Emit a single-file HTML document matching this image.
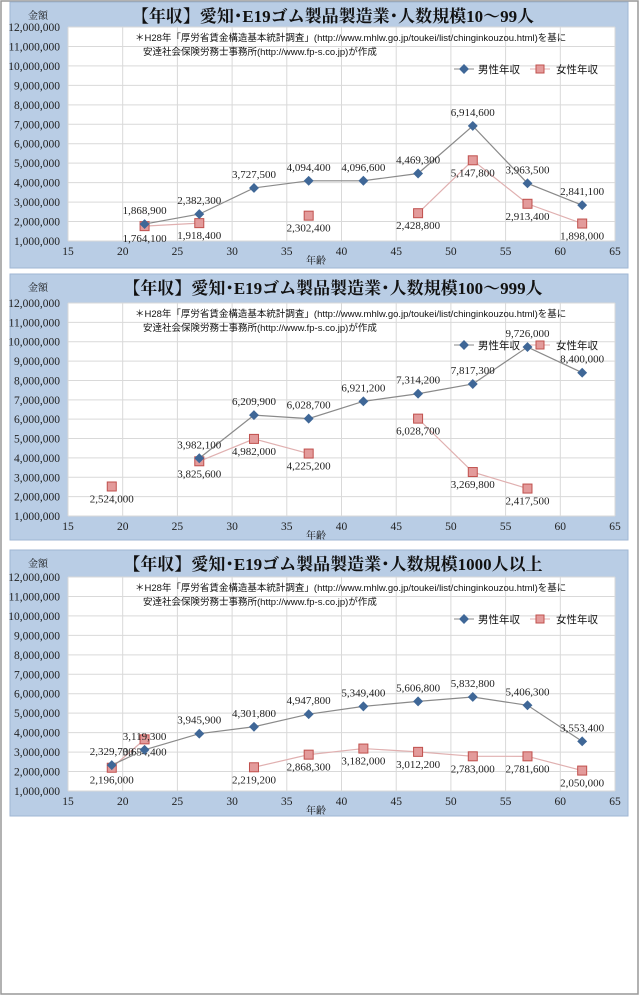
<!DOCTYPE html>
<html><head><meta charset="utf-8"><style>
html,body{margin:0;padding:0;background:#fff;}
svg{display:block;}
text{font-family:"Liberation Serif","Noto Serif CJK SC",serif;}
.s{font-family:"Liberation Sans","Noto Sans CJK JP",sans-serif;}
</style></head><body>
<svg id="chart" width="640" height="996" xmlns="http://www.w3.org/2000/svg">
<rect x="1" y="1" width="637" height="993" fill="#fff" stroke="#999" stroke-width="1.5"/>
</svg>
<script>
const ages=[19,22,27,32,37,42,47,52,57,62];
const titles=["【年収】愛知･E19ゴム製品製造業･人数規模10～99人","【年収】愛知･E19ゴム製品製造業･人数規模100～999人","【年収】愛知･E19ゴム製品製造業･人数規模1000人以上"];
const male1=[null,1868900,2382300,3727500,4094400,4096600,4469300,6914600,3963500,2841100];
const female1=[null,1764100,1918400,null,2302400,null,2428800,5147800,2913400,1898000];
const male2=[null,null,3982100,6209900,6028700,6921200,7314200,7817300,9726000,8400000];
const female2=[2524000,null,3825600,4982000,4225200,null,6028700,3269800,2417500,null];
const male3=[2329700,3119300,3945900,4301800,4947800,5349400,5606800,5832800,5406300,3553400];
const female3=[2196000,3654400,null,2219200,2868300,3182000,3012200,2783000,2781600,2050000];
const yTicks=[1e6,2e6,3e6,4e6,5e6,6e6,7e6,8e6,9e6,10e6,11e6,12e6];
const xTicks=[15,20,25,30,35,40,45,50,55,60,65];
const maleSets=[male1,male2,male3];
const femaleSets=[female1,female2,female3];
const panelTops=[2,274,550],plotTops=[27,303,577],plotBots=[241,516,791];
const NS="http://www.w3.org/2000/svg";
const svg=document.getElementById('chart');
function mk(tag,attrs,parent,txt){const e=document.createElementNS(NS,tag);for(const k in attrs)e.setAttribute(k,attrs[k]);if(txt!==undefined)e.textContent=txt;(parent||svg).appendChild(e);return e;}
const fmt=v=>v.toLocaleString('en-US');
const X0=68,X1=615;
for(let p=0;p<3;p++){
  const top=panelTops[p],pt=plotTops[p],pb=plotBots[p];
  const xs=a=>X0+(a-15)/50*(X1-X0);
  const ys=v=>pb-(v-1e6)/11e6*(pb-pt);
  const g=mk('g',{});
  
  
  const bg=mk('rect',{x:10,y:top,width:618,height:266,fill:'#b9cde5',stroke:'#9fb6d3'},g);
  
  
  const pa=mk('rect',{x:X0,y:pt,width:X1-X0,height:pb-pt,fill:'#fff'},g);
  
  
  yTicks.forEach(t=>{const y=ys(t);
    const l=mk('line',{x1:X0,x2:X1,y1:y,y2:y,stroke:'#d9d9d9'},g);
    
    
    const tx=mk('text',{x:60,y:y+4,'font-size':11.5,'text-anchor':'end',fill:'#222'},g,fmt(t));
    
    });
  xTicks.forEach(t=>{const x=xs(t);
    const l=mk('line',{x1:x,x2:x,y1:pt,y2:pb,stroke:'#d9d9d9'},g);
    
    
    const tx=mk('text',{x:x,y:pb+14,'font-size':11.5,'text-anchor':'middle',fill:'#222'},g,String(t));
    
    });
  const ti=mk('text',{x:333,y:top+20,'font-size':17,'text-anchor':'middle','font-weight':'bold',fill:'#111'},g,titles[p]);
  
  
  const ya=mk('text',{x:38,y:top+17,'font-size':10,'text-anchor':'middle',fill:'#111'},g,'金額');
  
  
  const xa=mk('text',{x:316,y:pb+23,'font-size':10,'text-anchor':'middle',fill:'#111'},g,'年齢');
  
  
  const n1=mk('text',{x:135,y:pt+14,'font-size':9.5,fill:'#111',class:'s'},g,'＊H28年「厚労省賃金構造基本統計調査」(http://www.mhlw.go.jp/toukei/list/chinginkouzou.html)を基に');
  
  
  const n2=mk('text',{x:143,y:pt+28,'font-size':9.5,fill:'#111',class:'s'},g,'安達社会保険労務士事務所(http://www.fp-s.co.jp)が作成');
  
  
  const ly=pt+42;
  const lg=mk('g',{},g);
  
  
  mk('line',{x1:454,x2:474,y1:ly,y2:ly,stroke:'#8a8a8a'},lg);
  mk('rect',{x:460.5,y:ly-3.5,width:7,height:7,fill:'#3f6797',transform:`rotate(45 464 ${ly})`},lg);
  mk('text',{x:478,y:ly+4,'font-size':10.5,fill:'#111',class:'s'},lg,'男性年収');
  mk('line',{x1:530,x2:550,y1:ly,y2:ly,stroke:'#e0b0b0'},lg);
  mk('rect',{x:536,y:ly-4,width:8,height:8,fill:'#e39b9b',stroke:'#c0504d'},lg);
  mk('text',{x:556,y:ly+4,'font-size':10.5,fill:'#111',class:'s'},lg,'女性年収');
  [[femaleSets[p],'#e0b0b0','female',16],[maleSets[p],'#8a8a8a','male',-10]].forEach(([arr,col,nm,off])=>{
    let seg=[];
    const segs=[];
    arr.forEach((v,i)=>{if(v===null){if(seg.length)segs.push(seg);seg=[];}else seg.push([xs(ages[i]),ys(v)]);});
    if(seg.length)segs.push(seg);
    segs.forEach(s=>{if(s.length>1){const pl=mk('polyline',{points:s.map(q=>q.join(',')).join(' '),fill:'none',stroke:col,'stroke-width':1.2},g);
      
      }});
    arr.forEach((v,i)=>{if(v===null)return;const x=xs(ages[i]),y=ys(v);let m;
      if(nm==='male'){m=mk('rect',{x:x-3.5,y:y-3.5,width:7,height:7,fill:'#3f6797',transform:`rotate(45 ${x} ${y})`},g);}
      else{m=mk('rect',{x:x-4.5,y:y-4.5,width:9,height:9,fill:'#e39b9b',stroke:'#c0504d'},g);}
      
      
      const lb=mk('text',{x:x,y:y+off,'font-size':11,'text-anchor':'middle',fill:'#222'},g,fmt(v));
      
      });
  });
}
</script>
</body></html>
